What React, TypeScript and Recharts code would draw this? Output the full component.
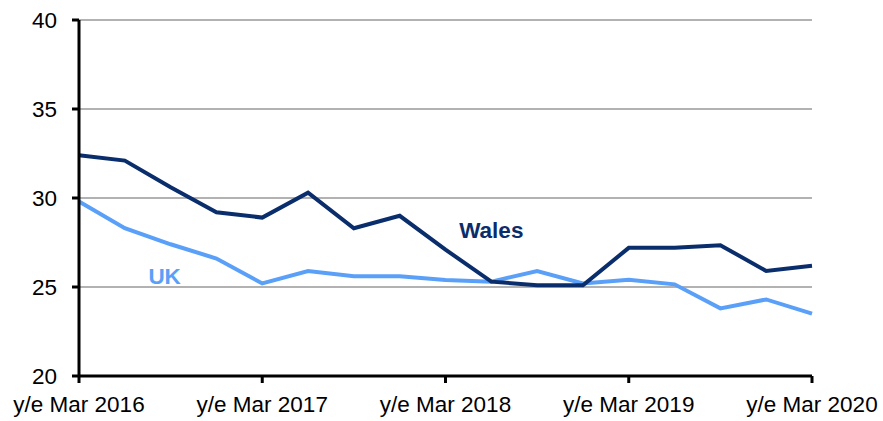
import * as React from 'react';
import { CartesianGrid, Label, Line, LineChart, ReferenceDot, XAxis, YAxis } from 'recharts';

// Quarterly rolling years, y/e Mar 2016 .. y/e Mar 2020
const quarters = [
  'y/e Mar 2016', 'y/e Jun 2016', 'y/e Sep 2016', 'y/e Dec 2016',
  'y/e Mar 2017', 'y/e Jun 2017', 'y/e Sep 2017', 'y/e Dec 2017',
  'y/e Mar 2018', 'y/e Jun 2018', 'y/e Sep 2018', 'y/e Dec 2018',
  'y/e Mar 2019', 'y/e Jun 2019', 'y/e Sep 2019', 'y/e Dec 2019',
  'y/e Mar 2020',
];
const wales = [32.4, 32.1, 30.6, 29.2, 28.9, 30.3, 28.3, 29.0, 27.1, 25.3, 25.1, 25.1, 27.2, 27.2, 27.35, 25.9, 26.2];
const uk = [29.8, 28.3, 27.4, 26.6, 25.2, 25.9, 25.6, 25.6, 25.4, 25.3, 25.9, 25.2, 25.4, 25.15, 23.8, 24.3, 23.5];
const xTicks = ['y/e Mar 2016', 'y/e Mar 2017', 'y/e Mar 2018', 'y/e Mar 2019', 'y/e Mar 2020'];
const yTicks = [20, 25, 30, 35, 40];

const WALES_COLOR = '#0A2D6B';
const UK_COLOR = '#5AA0F8';
const FONT = '"Liberation Sans", Arial, sans-serif';
const TICK_STYLE = { fill: '#000', fontSize: 22.5, fontFamily: FONT } as const;

const data = quarters.map((q, i) => ({ q, wales: wales[i], uk: uk[i] }));

export default function App(): React.JSX.Element {
  return (
    <div style={{ position: 'absolute', left: 0, top: 0, width: 883, height: 421, background: '#fff' }}>
      <LineChart width={883} height={421} data={data} margin={{ top: 20, right: 71, left: 0, bottom: 0 }}>
        <CartesianGrid vertical={false} stroke="#999" strokeWidth={1.5} />
        <XAxis
          dataKey="q"
          ticks={xTicks}
          interval={0}
          height={45}
          stroke="#000"
          strokeWidth={3}
          tickSize={7}
          tickMargin={13}
          tick={TICK_STYLE}
        />
        <YAxis
          domain={[20, 40]}
          ticks={yTicks}
          width={79}
          stroke="#000"
          strokeWidth={3}
          tickSize={7}
          tickMargin={15}
          tick={TICK_STYLE}
        />
        <Line
          dataKey="uk"
          stroke={UK_COLOR}
          strokeWidth={4}
          dot={false}
          isAnimationActive={false}
        />
        <Line
          dataKey="wales"
          stroke={WALES_COLOR}
          strokeWidth={4}
          dot={false}
          isAnimationActive={false}
        />
        <ReferenceDot x="y/e Jun 2018" y={28.2} r={0} fill="none" stroke="none">
          <Label
            value="Wales"
            position="center"
            fill={WALES_COLOR}
            fontSize={22.5}
            fontWeight="bold"
            fontFamily={FONT}
          />
        </ReferenceDot>
        <ReferenceDot x="y/e Sep 2016" y={25.6} r={0} fill="none" stroke="none">
          <Label
            value="UK"
            position="center"
            dx={-6}
            fill={UK_COLOR}
            fontSize={22.5}
            fontWeight="bold"
            fontFamily={FONT}
          />
        </ReferenceDot>
      </LineChart>
    </div>
  );
}
